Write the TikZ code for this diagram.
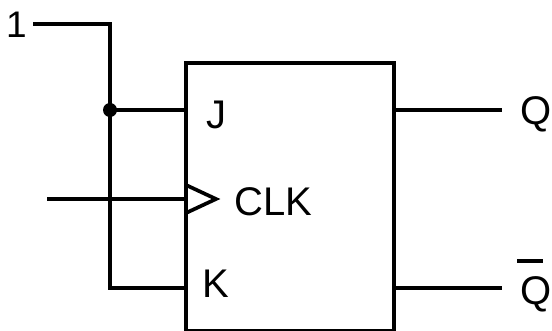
\documentclass[tikz,border=0pt]{standalone}
\usepackage{fontspec}
\setmainfont{Liberation Sans}
\begin{document}
\begin{tikzpicture}[x=1pt,y=-1pt,
  wire/.style={line width=3.7pt},
  lbl/.style={inner sep=0pt,anchor=base west,font=\fontsize{40}{48}\selectfont},
  ffbox/.style={draw,line width=3.7pt,minimum width=208pt,minimum height=268pt,inner sep=0pt}]
\useasboundingbox (0,0) rectangle (552,331);
\node[ffbox] (ff) at (290,197) {};
% texts
\node[lbl,font=\fontsize{37}{44}\selectfont] (one) at (6,38) {1};
\node[lbl] (j) at (206,129) {J};
\node[lbl] (clk) at (234,216) {CLK};
\node[lbl] (k) at (202,298) {K};
\node[lbl] (q) at (520,125) {Q};
\node[lbl] (qb) at (520,305) {Q};
\draw[line width=3.3pt] (517,261) -- (543,261);
% input wires
\coordinate (a) at (33,24);
\coordinate (b) at (110,24);
\coordinate (jd) at (110,110);
\coordinate (kc) at (110,288);
\coordinate (ci) at (47,199);
\draw[wire] (a) -- (b) -- (kc) -- (ff.west |- kc);
\draw[wire] (jd) -- (ff.west |- jd);
\fill (jd) circle (7pt);
\draw[wire] (ci) -- (ff.west |- ci);
\draw[wire,line join=miter] (186,185) -- (216,199) -- (186,213);
% outputs
\coordinate (qo) at (502,110);
\coordinate (qbo) at (502,288);
\draw[wire] (ff.east |- qo) -- (qo);
\draw[wire] (ff.east |- qbo) -- (qbo);
\end{tikzpicture}
\end{document}
